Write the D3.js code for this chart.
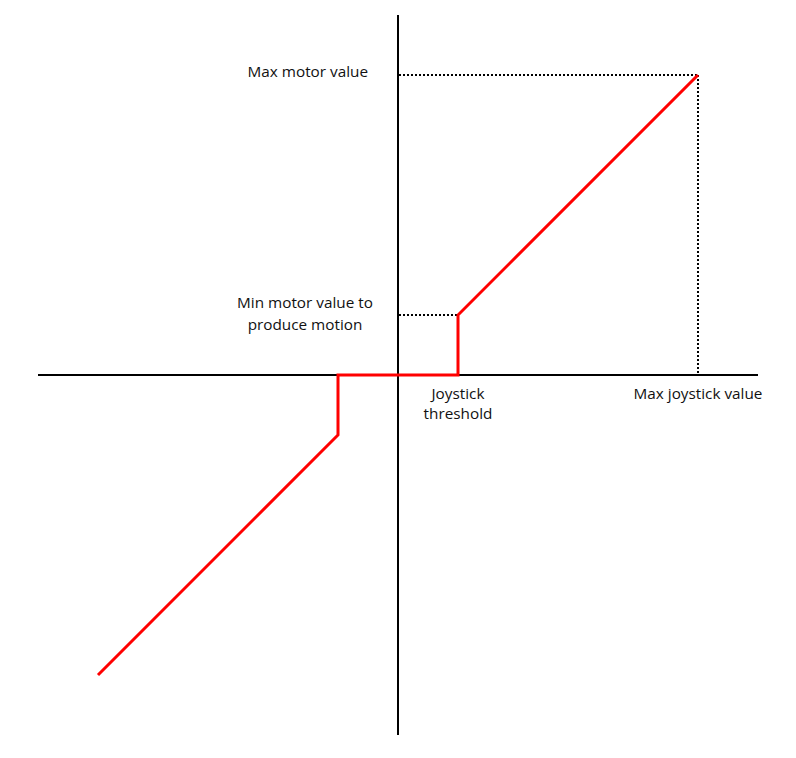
<!DOCTYPE html>
<html><head><meta charset="utf-8">
<script src="https://cdn.jsdelivr.net/npm/d3@7"></script>
<style>body{margin:0;background:#fff}svg{display:block}text{font-family:"Open Sans",sans-serif;font-size:15.3px;fill:#111}</style>
</head><body>
<script>
// Data (joystick units -> motor units)
const joystickX = [-5, -1, -1, 1, 1, 5];
const motorY = [-5, -1, 0, 0, 1, 5];
const thresholdX = 1, maxJoystick = 5, minMotor = 1, maxMotor = 5;
const labels = ["Max motor value", "Min motor value to", "produce motion", "Joystick", "threshold", "Max joystick value"];

const W = 796, H = 758;
const svg = d3.select("body").append("svg").attr("width", W).attr("height", H);
const x = d3.scaleLinear().domain([-6, 6]).range([38, 758]);
const y = d3.scaleLinear().domain([-6, 6]).range([735, 15]);

// axes
svg.append("line").attr("x1", x(-6)).attr("x2", x(6)).attr("y1", y(0)).attr("y2", y(0)).attr("stroke", "#000").attr("stroke-width", 2);
svg.append("line").attr("x1", x(0)).attr("x2", x(0)).attr("y1", y(6)).attr("y2", y(-6)).attr("stroke", "#000").attr("stroke-width", 2);

// dotted guides
const dot = (x1, y1, x2, y2) => svg.append("line").attr("x1", x1).attr("y1", y1).attr("x2", x2).attr("y2", y2)
  .attr("stroke", "#000").attr("stroke-width", 2).attr("stroke-dasharray", "2,2");
dot(x(0) + 1, y(maxMotor), x(maxJoystick), y(maxMotor));
dot(x(maxJoystick), y(maxMotor), x(maxJoystick), y(0) - 1);
dot(x(0) + 1, y(minMotor), x(thresholdX), y(minMotor));

// red response curve
const pts = joystickX.map((d, i) => [d, motorY[i]]);
svg.append("path").attr("d", d3.line().x(d => x(d[0])).y(d => y(d[1]))(pts))
  .attr("fill", "none").attr("stroke", "#ff0000").attr("stroke-width", 3).attr("stroke-linejoin", "miter");

// labels
const t = (s, xx, yy, anchor) => svg.append("text").attr("x", xx).attr("y", yy).attr("text-anchor", anchor).text(s);
t(labels[0], 368, 77, "end");
t(labels[1], 305, 308, "middle");
t(labels[2], 305, 330, "middle");
t(labels[3], x(thresholdX), 399, "middle");
t(labels[4], x(thresholdX), 419, "middle");
t(labels[5], 698, 399, "middle");
</script>
</body></html>
